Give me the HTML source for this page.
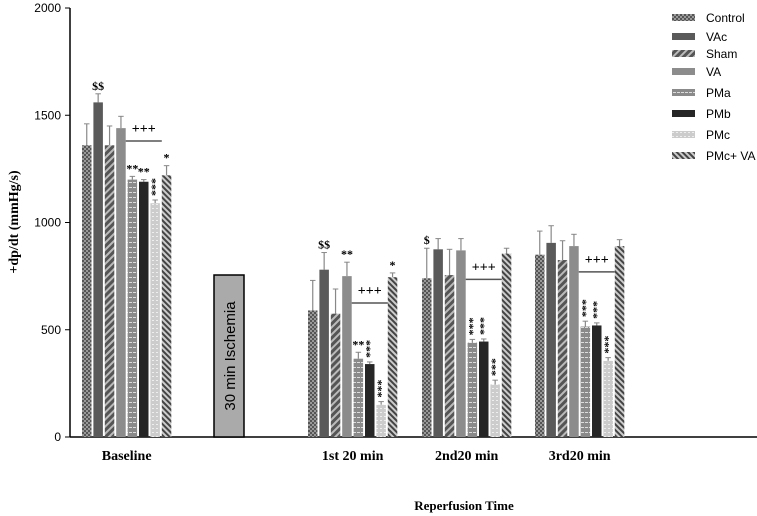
<!DOCTYPE html>
<html><head><meta charset="utf-8"><style>
body{margin:0;background:#fff}
svg{display:block}
text{font-family:"Liberation Serif",serif}
</style></head><body>
<svg id="chart" width="757" height="516" viewBox="0 0 757 516">
<defs>
<pattern id="pCtrl" width="4" height="4" patternUnits="userSpaceOnUse"><rect width="4" height="4" fill="#555"/><rect x="0" y="0" width="2" height="2" fill="#999"/><rect x="2" y="2" width="2" height="2" fill="#999"/></pattern>
<pattern id="pSham" width="5" height="5" patternUnits="userSpaceOnUse" patternTransform="rotate(45)"><rect width="5" height="5" fill="#555"/><rect width="2" height="5" fill="#bbb"/></pattern>
<pattern id="pPMa" width="4" height="5" patternUnits="userSpaceOnUse"><rect width="4" height="5" fill="#8a8a8a"/><rect x="1" y="2" width="3" height="1" fill="#ddd"/></pattern>
<pattern id="pPMc" width="4" height="4" patternUnits="userSpaceOnUse"><rect width="4" height="4" fill="#ccc"/><rect width="2" height="1" fill="#eee"/></pattern>
<pattern id="pPMcVA" width="4" height="4" patternUnits="userSpaceOnUse" patternTransform="rotate(-45)"><rect width="4" height="4" fill="#444"/><rect width="2" height="4" fill="#ccc"/></pattern>
</defs>
<g id="plot"></g>
</svg>
<script>
const groups=["Baseline","1st 20 min","2nd20 min","3rd20 min"];
const series=["Control","VAc","Sham","VA","PMa","PMb","PMc","PMc+ VA"];
const valsControl=[1360,590,740,850];
const valsVAc=[1560,780,875,905];
const valsSham=[1360,575,755,825];
const valsVA=[1440,750,870,890];
const valsPMa=[1200,365,440,515];
const valsPMb=[1190,340,445,520];
const valsPMc=[1090,150,245,355];
const valsPMcVA=[1220,745,855,890];
const errControl=[100,140,140,110];
const errVAc=[40,80,50,80];
const errSham=[90,115,120,90];
const errVA=[55,65,55,55];
const errPMa=[15,30,15,25];
const errPMb=[10,10,12,12];
const errPMc=[15,15,20,15];
const errPMcVA=[45,20,25,30];
const yTicks=[0,500,1000,1500,2000];
const allVals=[valsControl,valsVAc,valsSham,valsVA,valsPMa,valsPMb,valsPMc,valsPMcVA];
const allErr=[errControl,errVAc,errSham,errVA,errPMa,errPMb,errPMc,errPMcVA];
const fills=["url(#pCtrl)","#5a5a5a","url(#pSham)","#8c8c8c","url(#pPMa)","#262626","url(#pPMc)","url(#pPMcVA)"];
const groupStart=[82,308,422,535];
const y=v=>437-v*(429/2000);
const ns="http://www.w3.org/2000/svg";
const g=document.getElementById('plot');
function mk(t,a,txt){const e=document.createElementNS(ns,t);for(const k in a)e.setAttribute(k,a[k]);if(txt!==undefined)e.textContent=txt;g.appendChild(e);return e;}
let ax=mk('line',{x1:70,y1:8,x2:70,y2:437,stroke:'#000','stroke-width':1.5});


let xa=mk('line',{x1:70,y1:437,x2:757,y2:437,stroke:'#000','stroke-width':1.5});


yTicks.forEach(t=>{
 let l=mk('line',{x1:65,y1:y(t),x2:70,y2:y(t),stroke:'#000'});
 
 
 let tx=mk('text',{x:61,y:y(t)+4,'text-anchor':'end','font-size':12,style:'font-family:Liberation Sans,sans-serif'},t);
 
 
});
const pitch=11.4,bw=9.5;
groups.forEach((gn,gi)=>{
 series.forEach((s,si)=>{
  const v=allVals[si][gi],e=allErr[si][gi];
  const x=groupStart[gi]+si*pitch;
  let el=mk('line',{x1:x+bw/2,y1:y(v),x2:x+bw/2,y2:y(v+e),stroke:'#888','stroke-width':1.2});
  
  
  let cap=mk('line',{x1:x+2,y1:y(v+e),x2:x+bw-2,y2:y(v+e),stroke:'#888'});
  
  
  let r=mk('rect',{x:x,y:y(v),width:bw,height:437-y(v),fill:fills[si]});
  
  
 });
 const cx=groupStart[gi]+3.5*pitch+bw/2;
 let lb=mk('text',{x:cx,y:460,'text-anchor':'middle','font-size':14,'font-weight':'bold'},gn);
 
 
 const x1=groupStart[gi]+3*pitch+bw, x2=groupStart[gi]+7*pitch;
 const lineY=gi==0?y(1380):y(allVals[7][gi]-120);
 let sl=mk('line',{x1:x1,y1:lineY,x2:x2,y2:lineY,stroke:'#555','stroke-width':1.5});
 
 
 let pt=mk('text',{x:(x1+x2)/2,y:lineY-8,'text-anchor':'middle','font-size':14,'font-weight':'bold'},'+++');
 
 
});
let ib=mk('rect',{x:214,y:275,width:30,height:162,fill:'#aaa',stroke:'#000','stroke-width':1.5});


let it=mk('text',{x:0,y:0,transform:'translate(235,356) rotate(-90)','text-anchor':'middle','font-size':15,style:'font-family:Liberation Sans,sans-serif'},'30 min Ischemia');


let yt=mk('text',{x:0,y:0,transform:'translate(18,222) rotate(-90)','text-anchor':'middle','font-size':14,'font-weight':'bold'},'+dp/dt (mmHg/s)');


let xt=mk('text',{x:464,y:510,'text-anchor':'middle','font-size':13,'font-weight':'bold'},'Reperfusion Time');


const stars=[[0,1,'$$'],[0,4,'**'],[0,5,'**'],[0,6,'***'],[0,7,'*'],[1,1,'$$'],[1,3,'**'],[1,4,'**'],[1,5,'***'],[1,6,'***'],[1,7,'*'],[2,0,'$'],[2,4,'***'],[2,5,'***'],[2,6,'***'],[3,4,'***'],[3,5,'***'],[3,6,'***']];
stars.forEach(([gi,si,t])=>{
 const x=groupStart[gi]+si*pitch+bw/2;
 const top=y(allVals[si][gi]+allErr[si][gi])-4;
 let st=mk('text',{x:x,y:top,'font-size':12,'font-weight':'bold','text-anchor':'middle'},t);
 if(t.length>2){st.setAttribute('transform',`rotate(-90 ${x} ${top})`);st.setAttribute('text-anchor','start');st.setAttribute('y',top+4);}
 
 
});
const legY=[18,37,54,72,93,114,135,156];
series.forEach((s,i)=>{
 let r=mk('rect',{x:672,y:legY[i]-4,width:23,height:7,fill:fills[i]});
 
 
 let t=mk('text',{x:706,y:legY[i]+4,'font-size':12,style:'font-family:Liberation Sans,sans-serif'},s);
 
 
});
</script>
</body></html>
